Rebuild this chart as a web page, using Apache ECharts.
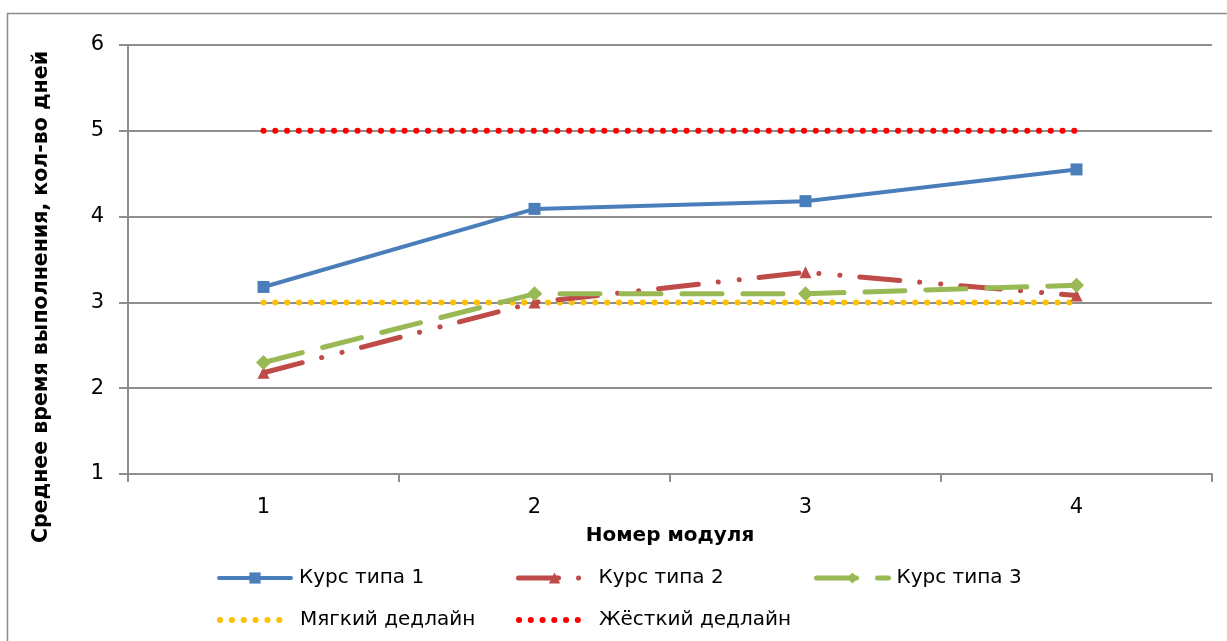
<!DOCTYPE html>
<html>
<head>
<meta charset="utf-8">
<style>
  html, body { margin: 0; padding: 0; background: #ffffff; }
  #chart { width: 1227px; height: 641px; }
</style>
<script src="https://cdn.jsdelivr.net/npm/echarts@6/dist/echarts.min.js"></script>
</head>
<body>
<div id="chart"></div>
<script>
// Module numbers on the category axis
const modules = ['1', '2', '3', '4'];

// Average completion time per module, days
const course1 = [3.18, 4.09, 4.18, 4.55];
const course2 = [2.18, 3.00, 3.35, 3.08];
const course3 = [2.30, 3.10, 3.10, 3.20];
const softDeadline = [3, 3, 3, 3];
const hardDeadline = [5, 5, 5, 5];

const seriesNames = ['Курс типа 1', 'Курс типа 2', 'Курс типа 3', 'Мягкий дедлайн', 'Жёсткий дедлайн'];

const FONT = 'DejaVu Sans, sans-serif';
const GRID_GRAY = '#8e8e8e';

// Per-series line styles, shared by the plotted lines and their legend keys
const styles = {
  c1: { color: '#4a7ebb', width: 4, type: 'solid', cap: 'round' },
  c2: { color: '#be4b48', width: 5, type: [40, 20, 0.1, 21, 0.1, 20], cap: 'round' },
  c3: { color: '#98b954', width: 5, type: [40, 21], cap: 'round' },
  soft: { color: '#ffc000', width: 6, type: [0.1, 11.75], cap: 'round' },
  hard: { color: '#ff0000', width: 6, type: [0.1, 11.65], cap: 'round' }
};

const chart = echarts.init(document.getElementById('chart'), null, { renderer: 'canvas' });

function legendAt(name, left, top, lineStyle, dotted) {
  return {
    data: [name],
    left: left,
    top: top,
    itemWidth: dotted ? 64 : 72,
    itemHeight: 14,
    itemGap: 0,
    padding: 0,
    lineStyle: Object.assign({}, lineStyle),
    itemStyle: dotted ? { opacity: 0 } : {},
    textStyle: { fontFamily: FONT, fontSize: 20, color: '#000', padding: [0, 0, 0, dotted ? 11 : 3] },
    selectedMode: false
  };
}

chart.setOption({
  animation: false,
  backgroundColor: '#ffffff',
  graphic: [
    {
      type: 'rect',
      shape: { x: 7.5, y: 13.5, width: 1400, height: 800 },
      style: { fill: 'none', stroke: '#8c8c8c', lineWidth: 1.5 },
      silent: true
    },
    {
      type: 'text',
      x: 42,
      y: 297,
      rotation: Math.PI / 2,
      style: {
        text: 'Среднее время выполнения, кол-во дней',
        fontFamily: FONT,
        fontSize: 20.5,
        fontWeight: 'bold',
        fill: '#000',
        align: 'center',
        verticalAlign: 'middle'
      }
    }
  ],
  legend: [
    legendAt(seriesNames[0], 217, 568, styles.c1, false),
    legendAt(seriesNames[1], 516, 568, styles.c2, false),
    legendAt(seriesNames[2], 814, 568, styles.c3, false),
    legendAt(seriesNames[3], 217, 610, styles.soft, true),
    legendAt(seriesNames[4], 516, 610, styles.hard, true)
  ],
  grid: { left: 128, right: 15, top: 45, bottom: 167, containLabel: false },
  xAxis: {
    type: 'category',
    data: modules,
    boundaryGap: true,
    name: 'Номер модуля',
    nameLocation: 'middle',
    nameGap: 52,
    nameTextStyle: { fontFamily: FONT, fontSize: 20, fontWeight: 'bold', color: '#000' },
    axisLine: { show: true, lineStyle: { color: GRID_GRAY, width: 2 } },
    axisTick: { show: true, length: 8, alignWithLabel: false, lineStyle: { color: GRID_GRAY, width: 2 } },
    axisLabel: { fontFamily: FONT, fontSize: 21, color: '#000', margin: 23 },
    splitLine: { show: false }
  },
  yAxis: {
    type: 'value',
    min: 1,
    max: 6,
    interval: 1,
    axisLine: { show: true, lineStyle: { color: GRID_GRAY, width: 2 } },
    axisTick: { show: true, length: 9, lineStyle: { color: GRID_GRAY, width: 2 } },
    axisLabel: { fontFamily: FONT, fontSize: 21, color: '#000', margin: 24 },
    splitLine: { show: true, lineStyle: { color: GRID_GRAY, width: 2 } }
  },
  series: [
    {
      name: seriesNames[4],
      type: 'line',
      data: hardDeadline,
      symbol: 'none',
      lineStyle: styles.hard,
      itemStyle: { color: styles.hard.color },
      z: 2
    },
    {
      name: seriesNames[3],
      type: 'line',
      data: softDeadline,
      symbol: 'none',
      lineStyle: styles.soft,
      itemStyle: { color: styles.soft.color },
      z: 2
    },
    {
      name: seriesNames[0],
      type: 'line',
      data: course1,
      symbol: 'rect',
      symbolSize: 12,
      lineStyle: styles.c1,
      itemStyle: { color: styles.c1.color },
      z: 3
    },
    {
      name: seriesNames[1],
      type: 'line',
      data: course2,
      symbol: 'triangle',
      symbolSize: 12,
      lineStyle: styles.c2,
      itemStyle: { color: styles.c2.color },
      z: 4
    },
    {
      name: seriesNames[2],
      type: 'line',
      data: course3,
      symbol: 'diamond',
      symbolSize: 15,
      lineStyle: styles.c3,
      itemStyle: { color: styles.c3.color },
      z: 5
    }
  ]
});
</script>
</body>
</html>
